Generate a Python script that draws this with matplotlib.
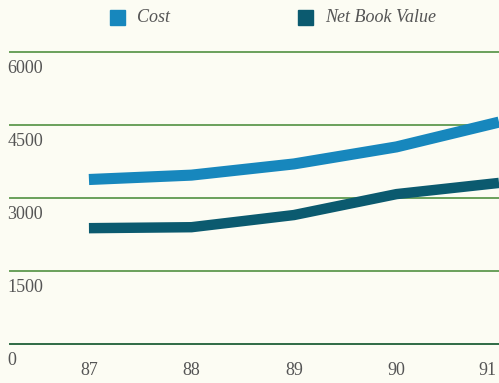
import matplotlib

matplotlib.use("Agg")
import matplotlib.pyplot as plt
from matplotlib.patches import Rectangle

years = [87, 88, 89, 90, 91]
year_labels = ["87", "88", "89", "90", "91"]
cost = [3380, 3470, 3700, 4050, 4560]
net_book_value = [2380, 2400, 2650, 3080, 3310]
y_ticks = [0, 1500, 3000, 4500, 6000]

BACKGROUND = "#fcfcf3"
COST_COLOR = "#1787bd"
NBV_COLOR = "#0b5a6f"
GRID_COLOR = "#6aa05a"
TEXT_COLOR = "#555555"
SERIF = ["Liberation Serif", "DejaVu Serif"]

fig = plt.figure(figsize=(4.99, 3.83), dpi=100, facecolor=BACKGROUND)
ax = fig.add_axes([10 / 499, 1 - 344 / 383, 489 / 499, 292 / 383])
ax.set_facecolor(BACKGROUND)
ax.set_xlim(86.23, 91.0)
ax.set_ylim(0, 6000)
ax.axis("off")

for value in y_ticks:
    color = "#2f6b45" if value == 0 else GRID_COLOR
    ax.axhline(value, color=color, linewidth=1.4, clip_on=False, zorder=1)
    # value label sits just under its grid line, at the left edge
    ax.annotate(
        str(value), xy=(0, value), xycoords=("axes fraction", "data"),
        xytext=(-2, -6), textcoords="offset points", ha="left", va="top",
        fontsize=13, family=SERIF, color=TEXT_COLOR,
    )

for x, label in zip(years, year_labels):
    # last year label is nudged in so it stays on the canvas
    shift = -8 if x == years[-1] else 0
    ax.annotate(
        label, xy=(x, 0), xycoords="data", xytext=(shift, -13),
        textcoords="offset points", ha="center", va="top",
        fontsize=13, family=SERIF, color=TEXT_COLOR, annotation_clip=False,
    )

ax.plot(years, cost, color=COST_COLOR, linewidth=8, solid_capstyle="butt",
        solid_joinstyle="round", clip_on=False, zorder=3)
ax.plot(years, net_book_value, color=NBV_COLOR, linewidth=7.5,
        solid_capstyle="butt", solid_joinstyle="round", clip_on=False, zorder=3)

# legend drawn by hand across the top
for x0, text, color in [(110, "Cost", COST_COLOR), (298, "Net Book Value", NBV_COLOR)]:
    fig.patches.append(Rectangle((x0 / 499, 1 - 25 / 383), 15 / 499, 15 / 383,
                                 transform=fig.transFigure, color=color))
    fig.text((x0 + 27) / 499, 1 - 18 / 383, text, ha="left", va="center",
             fontsize=13, family=SERIF, style="italic", color=TEXT_COLOR)

fig.savefig("out.png", dpi=100, facecolor=BACKGROUND)
